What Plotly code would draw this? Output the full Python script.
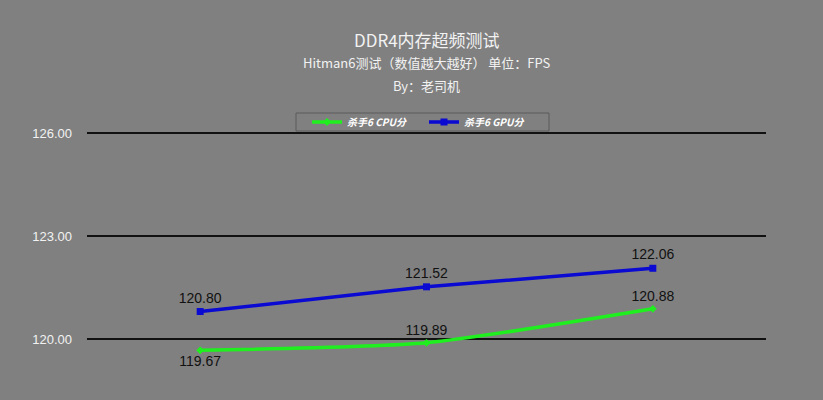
import plotly.graph_objects as go

categories = ["A", "B", "C"]
cpu_values = [119.67, 119.89, 120.88]
gpu_values = [120.80, 121.52, 122.06]
cpu_name = "杀手6 CPU分"
gpu_name = "杀手6 GPU分"
tick_values = [120, 123, 126]
title_main = "DDR4内存超频测试"
title_sub = "Hitman6测试（数值越大越好） 单位：FPS"
title_by = "By：老司机"

W, H = 823, 400
top, bottom, left, right = 129, 0, 87, 57
ph = H - top - bottom
pw = W - left - right
ppu = 103 / 3  # pixels per unit
ymax = 126 + (133 - top) / ppu
ymin = ymax - ph / ppu

def py(pix):
    return (H - bottom - pix) / ph

def px(pix):
    return (pix - left) / pw

fig = go.Figure()
fig.add_trace(go.Scatter(
    x=categories, y=cpu_values, name=cpu_name, mode="lines+markers+text",
    line=dict(color="#1fef1f", width=3.5, shape="spline", smoothing=0.6),
    marker=dict(symbol="diamond", size=6, color="#1fef1f"),
    text=[f"{v:.2f}" for v in cpu_values],
    textposition=["bottom center", "top center", "top center"],
    textfont=dict(family="Liberation Sans, Arial", size=14, color="#111111"),
    cliponaxis=False,
))
fig.add_trace(go.Scatter(
    x=categories, y=gpu_values, name=gpu_name, mode="lines+markers+text",
    line=dict(color="#0a0ad2", width=3.5),
    marker=dict(symbol="square", size=7, color="#0a0ad2"),
    text=[f"{v:.2f}" for v in gpu_values],
    textposition=["top center", "top center", "top center"],
    textfont=dict(family="Liberation Sans, Arial", size=14, color="#111111"),
    cliponaxis=False,
))

annots = []
for txt, pix, size in [(title_main, 39, 17), (title_sub, 63, 13), (title_by, 86, 13)]:
    annots.append(dict(text=txt, x=0.5, xref="paper", y=py(pix), yref="paper",
                       xanchor="center", yanchor="middle", showarrow=False,
                       font=dict(family="Noto Sans CJK SC", size=size, color="#f2f2f2")))

fig.update_layout(
    width=W, height=H,
    margin=dict(l=left, r=right, t=top, b=bottom),
    paper_bgcolor="#808080", plot_bgcolor="#808080",
    showlegend=True,
    legend=dict(orientation="h", x=px(424), xanchor="center",
                y=py(122), yanchor="middle",
                bgcolor="rgba(0,0,0,0)", borderwidth=0,
                font=dict(family="Noto Sans CJK SC", size=10, color="#ffffff", weight="bold", style="italic"),
                itemwidth=30, tracegroupgap=0, entrywidth=72),
    shapes=[dict(type="rect", xref="paper", yref="paper",
                 x0=px(296), x1=px(549), y0=py(131), y1=py(113),
                 line=dict(color="#5a5a5a", width=1), fillcolor="rgba(0,0,0,0)", layer="above")],
    annotations=annots,
    xaxis=dict(type="category", range=[-0.5, 2.5], showticklabels=False, showgrid=False,
               zeroline=False, showline=False, ticks=""),
    yaxis=dict(range=[ymin, ymax], tickvals=tick_values, tickformat=".2f",
               showgrid=True, gridcolor="#111111", gridwidth=1.5, zeroline=False,
               showline=False, ticks="", ticklabelstandoff=14,
               tickfont=dict(family="Liberation Sans, Arial", size=13, color="#f2f2f2")),
)
fig.write_html("out.html", config={"displayModeBar": False},
               post_script="document.body.style.margin='0';")
